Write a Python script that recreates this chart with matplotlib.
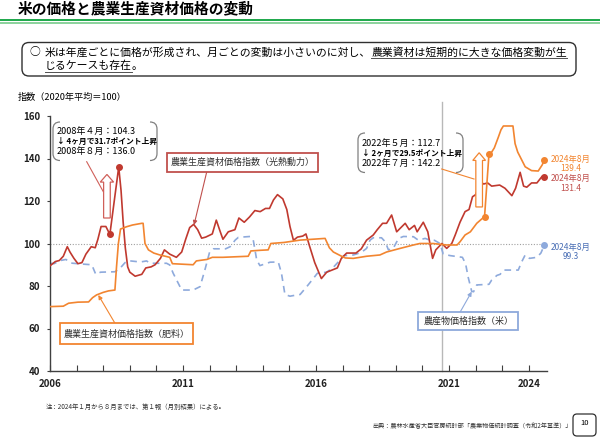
import numpy as np
import matplotlib
matplotlib.use("Agg")
import matplotlib.pyplot as plt
from matplotlib.patches import FancyBboxPatch, Rectangle, FancyArrow, PathPatch
from matplotlib.path import Path
from matplotlib.transforms import Affine2D

plt.rcParams['font.family'] = ['Noto Sans CJK JP', 'DejaVu Sans']

# ---- data (decimal year, index 2020 average = 100) ----
red_t = [2006.0, 2006.2, 2006.35, 2006.5, 2006.65, 2006.75, 2006.9,
         2007.05, 2007.2, 2007.35, 2007.55, 2007.7, 2007.8, 2007.92,
         2008.1, 2008.25, 2008.583, 2008.67, 2008.75, 2008.83, 2008.92,
         2009.0, 2009.2, 2009.45, 2009.6, 2009.8, 2009.95,
         2010.15, 2010.3, 2010.5, 2010.75, 2010.95,
         2011.1, 2011.25, 2011.4, 2011.55, 2011.7, 2011.85,
         2012.1, 2012.25, 2012.4, 2012.5, 2012.7, 2012.95,
         2013.1, 2013.3, 2013.5, 2013.7, 2013.9,
         2014.1, 2014.25, 2014.4, 2014.55, 2014.75, 2014.9,
         2015.02, 2015.15, 2015.3, 2015.5, 2015.62, 2015.75, 2015.95,
         2016.2, 2016.4, 2016.6, 2016.8, 2016.95,
         2017.15, 2017.5, 2017.7, 2017.9,
         2018.15, 2018.3, 2018.5, 2018.65, 2018.84,
         2019.03, 2019.35, 2019.5, 2019.7, 2019.8,
         2020.03, 2020.2, 2020.38, 2020.5, 2020.73, 2020.91,
         2021.1, 2021.23, 2021.41, 2021.6, 2021.75, 2021.88,
         2022.0, 2022.17, 2022.3, 2022.45, 2022.6, 2022.9,
         2023.1, 2023.36, 2023.5, 2023.67, 2023.8, 2023.92,
         2024.1, 2024.3, 2024.49, 2024.583]
red_v = [89.5, 91.5, 92, 94, 98.5, 96, 93,
         90.5, 91, 95, 98.5, 98, 102, 108,
         108, 104.3, 136.0, 125, 110, 98, 89,
         86.5, 84.6, 85.5, 88.5, 89, 90,
         93, 97, 95, 93.5, 96,
         102, 107.5, 109, 106.5, 102.5, 103,
         104.5, 111, 105.5, 102, 105.5, 106.5,
         112, 110, 112.5, 115.5, 115,
         116.5, 116.5, 120.5, 123, 121, 116,
         108, 101.5, 103, 103.5, 104.5, 99, 91,
         83.5, 86.5, 87.5, 88.5, 93,
         95.5, 95.5, 97.5, 101.6,
         104, 106.5, 109.5, 109.5, 113.4,
         105.5, 109.5, 106.5, 108.5, 105.5,
         110, 105.5, 93, 97, 100, 97.7,
         100, 104, 110, 115, 116, 122,
         123, 129, 128, 128.5, 127, 127.5,
         126, 122.5, 126, 133.5, 127, 126.5,
         128.5, 128.5, 131.5, 131.4]

orange_t = [2006.0, 2006.5, 2006.7,
            2007.05, 2007.45, 2007.6, 2007.75,
            2008.0, 2008.2, 2008.44, 2008.5, 2008.57, 2008.65, 2008.88,
            2009.1, 2009.45, 2009.5, 2009.57, 2009.7, 2009.9,
            2010.13, 2010.4, 2010.5, 2010.6,
            2011.38, 2011.5, 2011.9,
            2012.1, 2012.5,
            2013.45, 2013.55, 2013.9,
            2014.2, 2014.3, 2014.8,
            2015.4,
            2016.34, 2016.5, 2016.65, 2016.96,
            2017.1, 2017.4, 2017.9,
            2018.4, 2018.65,
            2019.16, 2019.66, 2019.9,
            2020.4, 2020.9,
            2021.3, 2021.41, 2021.6, 2021.8,
            2022.04, 2022.333, 2022.5, 2022.6, 2022.7, 2022.85, 2022.95,
            2023.04, 2023.4, 2023.48, 2023.58, 2023.67, 2023.86,
            2024.1, 2024.35, 2024.5, 2024.583]
orange_v = [70.3, 70.5, 71.9,
            72.4, 72.5, 74.5, 75.8,
            77, 77.7, 78.1, 89, 100, 106.8, 107.9,
            108.7, 109.5, 109.5, 100, 97, 95.5,
            94.6, 93.8, 93.5, 90.5,
            90, 91.8, 92.5,
            93.5, 93.5,
            94, 96.5, 96.8,
            97, 100, 100.5,
            101.6,
            102.4, 98, 96, 94,
            93.2, 93, 94,
            94.6, 96,
            97.7, 99.3, 100,
            100, 99.3,
            99.3, 100.8, 104, 105.5,
            109.5, 112.7, 142.2, 143, 145, 150, 153.5,
            155.3, 155.3, 147, 143, 140.8, 136.1,
            134.3, 134.1, 137, 139.4]

blue_t = [2006.0, 2006.15, 2006.4, 2006.6, 2006.78,
          2007.13, 2007.57, 2007.72, 2007.9,
          2008.44, 2008.63, 2008.82, 2008.95,
          2009.4, 2009.63, 2009.76,
          2010.38, 2010.5, 2010.63, 2010.82, 2010.95,
          2011.38, 2011.64, 2011.82,
          2012.0, 2012.14, 2012.6, 2012.77, 2012.96,
          2013.08, 2013.52, 2013.64, 2013.77, 2013.89,
          2014.27, 2014.58, 2014.7, 2014.83,
          2015.02, 2015.15, 2015.4, 2015.65, 2015.9,
          2016.05, 2016.4, 2016.65, 2016.9,
          2017.05, 2017.4, 2017.7, 2017.9,
          2018.03, 2018.15, 2018.46, 2018.6, 2018.72, 2018.9,
          2019.1, 2019.28, 2019.66, 2019.84,
          2020.1, 2020.28, 2020.45, 2020.66, 2020.78,
          2021.04, 2021.5, 2021.62, 2021.72, 2021.85, 2021.92,
          2022.04, 2022.5, 2022.6, 2022.8, 2022.92,
          2023.04, 2023.6, 2023.73, 2023.86,
          2024.02, 2024.3, 2024.45, 2024.583]
blue_v = [90.7, 90.5, 92, 92.5, 90.8,
          90.4, 90, 85.5, 86.5,
          86.7, 88.3, 91, 91.9,
          91.3, 91.8, 90.7,
          90.7, 89.9, 86, 81.3, 78.1,
          78.1, 79.7, 87.5,
          96, 97.5, 97.5, 98.5, 101.6,
          102.9, 103.3, 101.6, 92.2, 89.6,
          91.2, 91.3, 86, 76,
          75.2, 75.5, 76, 79.7, 83.6,
          86, 86.5, 88.8, 92.2,
          94.3, 94.6, 95.8, 97.7,
          101.6, 102.7, 102.7, 100.8, 97, 97.7,
          102.4, 103.3, 103.2, 101.6,
          102.4, 101.6, 101.5, 100, 95,
          94.3, 93.5, 90.5, 84, 77.5, 77.3,
          80.5, 80.8, 82.8, 85, 85.5,
          87.5, 87.5, 91.4, 94.6,
          93, 93.5, 95.5, 99.3]

red_marks = [2008.25, 2008.583, 2024.583]
orange_marks = [2022.333, 2022.5, 2024.583]
blue_marks = [2024.583]

year_ticks = list(range(2006, 2025))
year_labels = {2006: '2006', 2011: '2011', 2016: '2016', 2021: '2021', 2024: '2024'}
y_ticks = [40, 60, 80, 100, 120, 140, 160]

RED = '#C0392F'
ORANGE = '#F28530'
BLUE = '#8EAADC'

fig = plt.figure(figsize=(6, 4.37), dpi=100)
# pixel coordinates, origin top-left
T = Affine2D().scale(1 / 600, -1 / 437).translate(0, 1) + fig.transFigure

# ---- header ----
fig.text(18, 8.5, '米の価格と農業生産資材価格の変動', transform=T, fontsize=10.6,
         fontweight='bold', va='center', ha='left')
fig.add_artist(Rectangle((0, 18.8), 600, 2.6, transform=T, color='#22A94E', lw=0))
fig.add_artist(Rectangle((0, 22.0), 600, 1.6, transform=T, color='#8ED39E', lw=0))

fig.add_artist(FancyBboxPatch((22, 42.5), 554, 33.5, transform=T,
                              boxstyle='round,pad=0,rounding_size=7',
                              fc='white', ec='#303030', lw=1.0))
fig.text(30, 52, '○', transform=T, fontsize=7.8, va='center')

renderer = fig.canvas.get_renderer()


def underline(txt, y):
    bb = txt.get_window_extent(renderer)
    fig.add_artist(plt.Line2D([bb.x0, bb.x1], [437 - y, 437 - y],
                              transform=None, color='#505050', lw=0.7))
    return bb


t1 = fig.text(45, 52, '米は年産ごとに価格が形成され、月ごとの変動は小さいのに対し、',
              transform=T, fontsize=7.8, va='center')
bb1 = t1.get_window_extent(renderer)
t2 = fig.text(bb1.x1, 437 - 52, '農業資材は短期的に大きな価格変動が生',
              transform=None, fontsize=7.8, va='center')
underline(t2, 58)
t3 = fig.text(45, 66, 'じるケースも存在', transform=T, fontsize=7.8, va='center')
bb3 = underline(t3, 72)
fig.text(bb3.x1, 437 - 66, '。', transform=None, fontsize=7.8, va='center')

fig.text(18, 97, '指数（2020年平均＝100）', transform=T, fontsize=6.6, va='center')

# ---- axes ----
ax = fig.add_axes([50 / 600, 1 - 371 / 437, 497 / 600, 255 / 437])
ax.set_xlim(2006, 2024.68)
ax.set_ylim(40, 160)
for s in ['top', 'right']:
    ax.spines[s].set_visible(False)
for s in ['left', 'bottom']:
    ax.spines[s].set_color('#404040')
    ax.spines[s].set_linewidth(1.0)
ax.set_xticks(year_ticks)
ax.set_xticklabels([year_labels.get(y, '') for y in year_ticks])
ax.set_yticks(y_ticks)
ax.tick_params(axis='x', direction='in', length=4, width=0.8, color='#404040',
               labelsize=7, pad=6)
ax.tick_params(axis='y', direction='out', length=2, width=0.8, color='#404040',
               labelsize=7, pad=5)
for lab in ax.get_xticklabels() + ax.get_yticklabels():
    lab.set_fontweight('bold')
    lab.set_color('#202020')

ax.axhline(100, color='#A0A0A0', lw=0.8, ls=(0, (1, 1.5)), zorder=1)
ax.plot([2020.72, 2020.72], [40, 166.6], color='#B8B8B8', lw=1.0, clip_on=False, zorder=1)

ax.plot(blue_t, blue_v, color=BLUE, lw=1.2, ls=(0, (4, 3)), zorder=2)
ax.plot(red_t, red_v, color=RED, lw=1.2, zorder=3)
ax.plot(orange_t, orange_v, color=ORANGE, lw=1.2, zorder=4)


def marks(t, v, sel, color):
    t = np.array(t)
    v = np.array(v)
    m = np.isin(t, sel)
    ax.plot(t[m], v[m], 'o', color=color, ms=4, zorder=5, clip_on=False)


marks(red_t, red_v, red_marks, RED)
marks(orange_t, orange_v, orange_marks, ORANGE)
marks(blue_t, blue_v, blue_marks, BLUE)

# hollow arrows
ax.add_patch(FancyArrow(2008.14, 112, 0, 20.5, width=0.25, head_width=0.5,
                        head_length=3.6, length_includes_head=True,
                        fc='white', ec='#D0605A', lw=0.9, zorder=6))
ax.add_patch(FancyArrow(2022.13, 117.2, 0, 25.5, width=0.25, head_width=0.48,
                        head_length=3.6, length_includes_head=True,
                        fc='white', ec=ORANGE, lw=0.9, zorder=6))


# ---- callouts ----
def bracket_box(x0, y0, x1, y1, r=7):
    codes = [Path.MOVETO, Path.CURVE3, Path.CURVE3, Path.LINETO, Path.CURVE3, Path.CURVE3]
    left = Path([(x0 + r, y0), (x0, y0), (x0, y0 + r), (x0, y1 - r), (x0, y1), (x0 + r, y1)], codes)
    right = Path([(x1 - r, y0), (x1, y0), (x1, y0 + r), (x1, y1 - r), (x1, y1), (x1 - r, y1)], codes)
    for p in (left, right):
        fig.add_artist(PathPatch(p, transform=T, fc='none', ec='#808080', lw=0.9))


bracket_box(53, 122, 157, 160.5)
fig.text(57, 131.7, '2008年４月：104.3', transform=T, fontsize=6.5, va='center')
fig.text(57, 141.7, '↓ 4ヶ月で31.7ポイント上昇', transform=T, fontsize=5.6,
         va='center', fontweight='bold')
fig.text(57, 151.7, '2008年８月：136.0', transform=T, fontsize=6.5, va='center')
fig.add_artist(plt.Line2D([86.7, 103.3], [161.7, 191.7], transform=T, color='#D0605A', lw=0.8))

bracket_box(358, 133, 463, 172.5)
fig.text(362, 143, '2022年５月：112.7', transform=T, fontsize=6.5, va='center')
fig.text(362, 153, '↓ 2ヶ月で29.5ポイント上昇', transform=T, fontsize=5.6,
         va='center', fontweight='bold')
fig.text(362, 163, '2022年７月：142.2', transform=T, fontsize=6.5, va='center')
fig.add_artist(plt.Line2D([441.7, 474], [169, 179], transform=T, color=ORANGE, lw=0.8))


def label_box(x0, y0, x1, y1, text, color, tail, head):
    fig.add_artist(Rectangle((x0, y0), x1 - x0, y1 - y0, transform=T,
                             fc='white', ec=color, lw=1.3, zorder=7))
    fig.text((x0 + x1) / 2, (y0 + y1) / 2, text, transform=T, fontsize=6.5,
             ha='center', va='center', color='#303030', zorder=8)
    ax.annotate('', xy=head, xycoords=T, xytext=tail, textcoords=T,
                arrowprops=dict(arrowstyle='-|>', color=color, lw=0.8,
                                mutation_scale=6, shrinkA=0, shrinkB=0))


label_box(166.7, 153, 318.3, 172, '農業生産資材価格指数（光熱動力）', '#C0504D',
          (206.7, 172), (194, 225))
label_box(60, 323.3, 193.3, 344.3, '農業生産資材価格指数（肥料）', ORANGE,
          (115, 323.3), (98.3, 295))
label_box(418.3, 312.3, 518.3, 330, '農産物価格指数（米）', '#8EA9DB',
          (460, 312.3), (471.7, 291.7))

# end labels
fig.text(571, 164.2, '2024年8月\n139.4', transform=T, fontsize=6, ha='center',
         va='center', color=ORANGE, linespacing=1.05)
fig.text(571, 183.5, '2024年8月\n131.4', transform=T, fontsize=6, ha='center',
         va='center', color='#C0504D', linespacing=1.05)
fig.text(571, 252, '2024年8月\n99.3', transform=T, fontsize=6, ha='center',
         va='center', color='#4A6FB5', linespacing=1.05)

# footer
fig.text(46, 406.7, '注：2024年１月から８月までは、第１報（月別結果）による。', transform=T,
         fontsize=4.6, va='center', color='#303030')
fig.text(572, 426.7, '出典：農林水産省大臣官房統計部「農業物価統計調査（令和2年基準）」',
         transform=T, fontsize=4.4, va='center', ha='right', color='#303030')
fig.add_artist(FancyBboxPatch((573, 414), 23, 22, transform=T,
                              boxstyle='round,pad=0,rounding_size=4',
                              fc='white', ec='#303030', lw=0.9))
fig.text(584.5, 423, '10', transform=T, fontsize=5.5, ha='center', va='center')

fig.savefig('out.png', dpi=100)
